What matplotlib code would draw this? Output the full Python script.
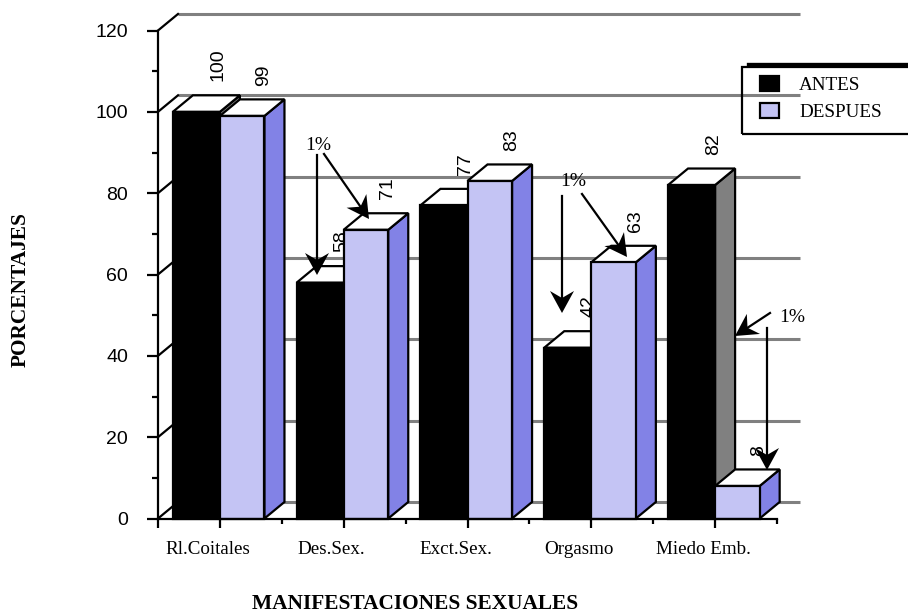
import matplotlib
matplotlib.use('Agg')
import matplotlib.pyplot as plt
from matplotlib.lines import Line2D
from matplotlib.patches import Patch, Polygon, Rectangle
from matplotlib.transforms import ScaledTranslation

categories = ['Rl.Coitales', 'Des.Sex.', 'Exct.Sex.', 'Orgasmo', 'Miedo Emb.']
antes = [100, 58, 77, 42, 82]
despues = [99, 71, 83, 63, 8]
series_names = ['ANTES', 'DESPUES']

# arrows as (start x, start y, tip x, tip y), in figure pixels from the top left
arrows = [
    (317, 155, 317, 275),
    (324, 154, 369, 219),
    (562, 196, 562, 313),
    (582, 194, 627, 257),
    (770, 313, 735, 336),
    (767, 328, 767, 470),
]
arrow_notes = [(318, 146), (573, 182), (792, 317)]

W, H = 908, 615
SERIF = 'Liberation Serif'
SANS = 'Liberation Sans'
LIGHT = '#c4c4f4'
SIDE = '#8282e6'
GREY = '#808080'
LW = 1.6

# depth of the fake 3D effect, in data units
DX = 0.1615
DY = 4.06
BAR_W_A = 0.38
BAR_W_B = 0.36


def fx(x):
    return x / W


def fy(y):
    return 1 - y / H


fig = plt.figure(figsize=(W / 100, H / 100), dpi=100)
ax = fig.add_axes([fx(158), fy(518.5), (777 - 158) / W, (518.5 - 30.5) / H])
ax.set_xlim(0, 5)
ax.set_ylim(0, 120)
ax.patch.set_alpha(0)

ax.spines['top'].set_visible(False)
ax.spines['right'].set_visible(False)
ax.spines['left'].set_linewidth(LW)
ax.spines['bottom'].set_linewidth(LW)
ax.spines['left'].set_zorder(30)
ax.spines['bottom'].set_zorder(30)

# back wall lines and the little diagonals joining them to the axis
for v in range(0, 121, 20):
    ax.plot([DX, 5 + DX + 0.025], [v + DY, v + DY], color=GREY, lw=2.2,
            clip_on=False, zorder=1, solid_capstyle='butt')
    ax.plot([0, DX], [v, v + DY], color='black', lw=LW, clip_on=False, zorder=1.5)


def draw_bar(x, width, value, front, side, z):
    left = x - width / 2
    right = x + width / 2
    top_pts = [(left, value), (right, value), (right + DX, value + DY), (left + DX, value + DY)]
    side_pts = [(right, 0), (right + DX, DY), (right + DX, value + DY), (right, value)]
    ax.add_patch(Polygon(side_pts, facecolor=side, edgecolor='black', lw=LW,
                         clip_on=False, zorder=z, joinstyle='miter'))
    ax.add_patch(Polygon(top_pts, facecolor='white', edgecolor='black', lw=LW,
                         clip_on=False, zorder=z, joinstyle='miter'))
    ax.bar(x, value, width, color=front, edgecolor='black', lw=LW, zorder=z + 0.1,
           clip_on=False)
    ax.annotate(str(value), (x + DX, value + DY), xytext=(1.2, 10), textcoords='offset points',
                rotation=90, ha='center', va='bottom', family=SANS, fontsize=14,
                color='black', zorder=z - 0.5, annotation_clip=False)


# black bar then its label, so the lighter bar can cover both
for i in range(len(categories)):
    base = 3 + i * 2
    draw_bar(i + 0.5 - BAR_W_A / 2, BAR_W_A, antes[i], 'black', GREY, base)
    draw_bar(i + 0.5 + BAR_W_B / 2, BAR_W_B, despues[i], LIGHT, SIDE, base + 1)

ax.set_yticks(range(0, 121, 20))
ax.set_yticks(range(10, 120, 20), minor=True)
ax.tick_params(axis='y', which='major', length=8, width=LW, pad=13.5, labelsize=14)
ax.tick_params(axis='y', which='minor', length=4.3, width=LW)
for lab in ax.get_yticklabels():
    lab.set_family(SANS)

ax.set_xticks([0] + [i + 0.5 for i in range(5)])
ax.set_xticklabels([''] + categories, family=SERIF, fontsize=13.7)
ax.set_xticks(range(1, 6), minor=True)
ax.tick_params(axis='x', which='major', length=6.5, width=LW, pad=10)
ax.tick_params(axis='x', which='minor', length=3.6, width=LW)
shift = ScaledTranslation(-12 / 100, 0, fig.dpi_scale_trans)
for lab in ax.get_xticklabels():
    lab.set_transform(lab.get_transform() + shift)

ax.set_xlabel('MANIFESTACIONES SEXUALES', family=SERIF, fontweight='bold', fontsize=15.4,
              va='center')
ax.xaxis.set_label_coords((415 - 158) / 619, -(604 - 518.5) / 488)
ax.set_ylabel('PORCENTAJES', family=SERIF, fontweight='bold', fontsize=15.4, va='center')
ax.yaxis.set_label_coords((21 - 158) / 619, (518.5 - 290) / 488)


def draw_arrow(x0, y0, x1, y1):
    length = ((x1 - x0) ** 2 + (y1 - y0) ** 2) ** 0.5
    ux, uy = (x1 - x0) / length, (y1 - y0) / length
    nx, ny = -uy, ux
    head, notch, half = 22, 15, 12
    pts = [
        (x1, y1),
        (x1 - ux * head + nx * half, y1 - uy * head + ny * half),
        (x1 - ux * notch, y1 - uy * notch),
        (x1 - ux * head - nx * half, y1 - uy * head - ny * half),
    ]
    fig.add_artist(Line2D([fx(x0), fx(x1 - ux * notch)], [fy(y0), fy(y1 - uy * notch)],
                          color='black', lw=1.6, zorder=20))
    fig.add_artist(Polygon([(fx(px), fy(py)) for px, py in pts], closed=True, facecolor='black',
                           edgecolor='none', transform=fig.transFigure, zorder=20))


for a in arrows:
    draw_arrow(*a)

for nx_, ny_ in arrow_notes:
    fig.text(fx(nx_), fy(ny_), '1%', family=SERIF, fontsize=14, ha='center', va='center',
             zorder=21)

# legend box runs past the right edge of the figure
fig.add_artist(Rectangle((fx(742), fy(134)), (960 - 742) / W, 67 / H, facecolor='none',
                         edgecolor='black', lw=1.6, transform=fig.transFigure, zorder=15))
fig.add_artist(Line2D([fx(748), fx(960)], [fy(64), fy(64)], color='black', lw=2.4, zorder=15))

handles = [Patch(facecolor='black', edgecolor='black', lw=LW),
           Patch(facecolor=LIGHT, edgecolor='black', lw=LW)]
leg = fig.legend(handles, series_names, loc='upper left', bbox_to_anchor=(fx(760), fy(76)),
                 frameon=False, borderpad=0, borderaxespad=0, handlelength=1.0,
                 handleheight=0.85, handletextpad=1.05, labelspacing=0.45,
                 prop={'family': SERIF, 'size': 13.8})
leg.set_zorder(16)

fig.savefig('out.png', dpi=100)
